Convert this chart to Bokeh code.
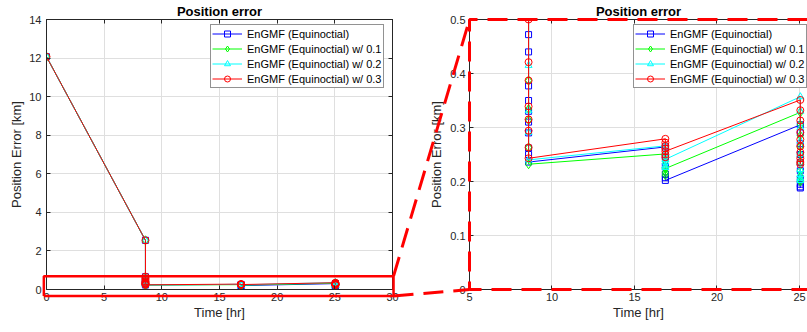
import numpy as np
from bokeh.plotting import figure
from bokeh.layouts import row
from bokeh.models import Range1d, FixedTicker, LinearAxis, Legend, LegendItem
from bokeh.embed import file_html
from bokeh.resources import INLINE

# ---------------- data ----------------
t_meas = [0.0, 8.58, 16.87, 25.05]          # measurement epochs [hr]
err_initial = 12.07                          # error at t = 0
err_first = 2.55                             # first update at 8.58 hr

series_labels = ["EnGMF (Equinoctial)", "EnGMF (Equinoctial) w/ 0.1",
                 "EnGMF (Equinoctial) w/ 0.2", "EnGMF (Equinoctial) w/ 0.3"]

blue_t1 = [0.66, 0.55, 0.472, 0.440, 0.377, 0.350, 0.330, 0.310, 0.290, 0.262, 0.250, 0.236]
blue_t2 = [0.264, 0.245, 0.228, 0.214, 0.207, 0.202]
blue_t3 = [0.305, 0.290, 0.270, 0.250, 0.235, 0.220, 0.205, 0.195, 0.190, 0.188]

green_t1 = [0.64, 0.52, 0.387, 0.334, 0.314, 0.263, 0.232]
green_t2 = [0.251, 0.238, 0.226, 0.217, 0.212, 0.224]
green_t3 = [0.328, 0.305, 0.285, 0.265, 0.250, 0.235, 0.220, 0.210, 0.203, 0.200]

cyan_t1 = [0.65, 0.54, 0.415, 0.331, 0.291, 0.240]
cyan_t2 = [0.266, 0.252, 0.236, 0.229, 0.226, 0.241]
cyan_t3 = [0.357, 0.330, 0.300, 0.275, 0.250, 0.235, 0.222, 0.213, 0.206, 0.202]

red_t1 = [0.67, 0.58, 0.50, 0.421, 0.387, 0.339, 0.315, 0.294, 0.263, 0.243]
red_t2 = [0.279, 0.272, 0.266, 0.261, 0.250, 0.245, 0.256]
red_t3 = [0.351, 0.332, 0.313, 0.291, 0.278, 0.265, 0.254, 0.243, 0.236, 0.232]

left_xticks = [0, 5, 10, 15, 20, 25, 30]
left_yticks = [0, 2, 4, 6, 8, 10, 12, 14]
right_xticks = [5, 10, 15, 20, 25]
right_yticks = [0, 0.1, 0.2, 0.3, 0.4, 0.5]
right_ytick_labels = ["0", "0.1", "0.2", "0.3", "0.4", "0.5"]

# ---------------- styles / layout ----------------
colors = ["#0000ff", "#00ff00", "#00ffff", "#ff0000"]
markers = ["square", "diamond", "triangle", "circle"]
msizes = [6, 9, 7, 7]
TXT = "#262626"
FONT = "Liberation Sans"
GRID = "#dfdfdf"

H = 332
TOP, BOTTOM = 19, 43
FRAME_H = H - TOP - BOTTOM
L_W, L_BL, L_BR = 402, 46, 10
R_W, R_BL, R_BR = 405, 67, 0
L_XR, L_YR = (0, 30), (0, 14)
R_XR, R_YR = (5, 25.485), (0, 0.5)
ZOOM_BOX = (-0.23, 30.09, -0.337, 0.69)   # x0, x1, y0, y1 in left-axes units
LEG_X, LEG_Y = 164, 201

# screen geometry of the two frames
L_FX0, L_FX1 = L_BL, L_W - L_BR
R_FX0, R_FX1 = L_W + R_BL, L_W + R_W - R_BR
FY0, FY1 = TOP, TOP + FRAME_H


def px_to_data(px, py, fx0, fx1, xr, yr):
    x = xr[0] + (px - fx0) / (fx1 - fx0) * (xr[1] - xr[0])
    y = yr[0] + (FY1 - py) / (FY1 - FY0) * (yr[1] - yr[0])
    return x, y


def data_to_px(x, y, fx0, fx1, xr, yr):
    px = fx0 + (x - xr[0]) / (xr[1] - xr[0]) * (fx1 - fx0)
    py = FY1 - (y - yr[0]) / (yr[1] - yr[0]) * (FY1 - FY0)
    return px, py


def build_series(c1, c2, c3):
    t = [t_meas[0], t_meas[1]] + [t_meas[1]] * len(c1) + [t_meas[2]] * len(c2) + [t_meas[3]] * len(c3)
    y = [err_initial, err_first] + c1 + c2 + c3
    return t, y


series = [build_series(blue_t1, blue_t2, blue_t3),
          build_series(green_t1, green_t2, green_t3),
          build_series(cyan_t1, cyan_t2, cyan_t3),
          build_series(red_t1, red_t2, red_t3)]


def style_axis(ax, ticks, labels=True):
    ax.ticker = FixedTicker(ticks=ticks)
    ax.axis_line_color = TXT
    ax.major_tick_line_color = TXT
    ax.major_tick_in = 4
    ax.major_tick_out = 0
    ax.minor_tick_line_color = None
    ax.major_label_text_font = FONT
    ax.axis_label_text_font = FONT
    ax.axis_label_text_font_size = "13px"
    ax.axis_label_text_font_style = "normal"
    ax.axis_label_text_color = TXT
    if labels:
        ax.major_label_text_font_size = "11px"
        ax.major_label_text_color = TXT
    else:
        ax.major_label_text_font_size = "0px"
        ax.major_label_text_color = None
        ax.major_label_standoff = 0


def make_fig(width, bl, br, xr, yr, xticks, yticks, outline):
    p = figure(width=width, height=H, output_backend="svg", toolbar_location=None,
               x_range=Range1d(*xr), y_range=Range1d(*yr),
               min_border_left=bl, min_border_right=br,
               min_border_top=TOP, min_border_bottom=BOTTOM,
               title="Position error")
    p.title.text_font = FONT
    p.title.text_font_size = "13px"
    p.title.text_font_style = "bold"
    p.title.text_color = "#000000"
    p.title.align = "center"
    p.title.standoff = 2
    p.outline_line_color = TXT if outline else None
    p.background_fill_color = "white"
    p.border_fill_color = "white"
    style_axis(p.xaxis[0], xticks)
    style_axis(p.yaxis[0], yticks)
    p.xaxis.axis_label = "Time [hr]"
    p.yaxis.axis_label = "Position Error [km]"
    p.xaxis.major_label_standoff = 3
    p.xaxis.axis_label_standoff = 1
    p.xgrid.ticker = FixedTicker(ticks=xticks)
    p.ygrid.ticker = FixedTicker(ticks=yticks)
    p.grid.grid_line_color = GRID
    top = LinearAxis()
    style_axis(top, xticks, labels=False)
    p.add_layout(top, "above")
    return p


def add_series(p):
    items = []
    for (t, y), lab, c, m, s in zip(series, series_labels, colors, markers, msizes):
        lr = p.line(t, y, line_color=c, line_width=1)
        sr = p.scatter(t, y, marker=m, size=s, line_color=c, fill_color=None, line_width=1)
        items.append(LegendItem(label=lab, renderers=[lr, sr]))
    legend = Legend(items=items, location=(LEG_X, LEG_Y),
                    label_text_font=FONT, label_text_font_size="11px", label_text_color="#000000",
                    glyph_width=30, glyph_height=15, label_height=15, label_standoff=5,
                    spacing=0, padding=1, margin=0,
                    border_line_color=TXT, border_line_width=1,
                    background_fill_color="white", background_fill_alpha=1)
    p.add_layout(legend)


# ---------- left figure ----------
pl = make_fig(L_W, L_BL, L_BR, L_XR, L_YR, left_xticks, left_yticks, True)
pl.yaxis[0].major_label_standoff = 5
pl.yaxis[0].axis_label_standoff = 2
rax = LinearAxis()
style_axis(rax, left_yticks, labels=False)
pl.add_layout(rax, "right")
add_series(pl)

# ---------- right figure ----------
pr = make_fig(R_W, R_BL, R_BR, R_XR, R_YR, right_xticks, right_yticks, False)
pr.yaxis[0].major_label_overrides = {v: s for v, s in zip(right_yticks, right_ytick_labels)}
pr.yaxis[0].major_label_standoff = 4
pr.yaxis[0].axis_label_standoff = 3
add_series(pr)

# ---------- zoom decorations ----------
zx0, zx1, zy0, zy1 = ZOOM_BOX
pl.line([zx0, zx1, zx1, zx0, zx0], [zy0, zy0, zy1, zy1, zy0],
        line_color="#ff0000", line_width=2.5, level="overlay")

a_top = data_to_px(zx1, zy1, L_FX0, L_FX1, L_XR, L_YR)
a_bot = data_to_px(zx1, zy0, L_FX0, L_FX1, L_XR, L_YR)
b_top = (R_FX0, FY0)
b_bot = (R_FX0, FY1)
for (a, b) in [(a_top, b_top), (a_bot, b_bot)]:
    for p, fx0, fx1, xr, yr in [(pl, L_FX0, L_FX1, L_XR, L_YR),
                                (pr, R_FX0, R_FX1, R_XR, R_YR)]:
        x0, y0 = px_to_data(a[0], a[1], fx0, fx1, xr, yr)
        x1, y1 = px_to_data(b[0], b[1], fx0, fx1, xr, yr)
        p.line([x0, x1], [y0, y1], line_color="#ff0000", line_width=3,
               line_dash="20 10", level="overlay")

pr.line([R_XR[1], R_XR[0], R_XR[0], R_XR[1]], [R_YR[1], R_YR[1], R_YR[0], R_YR[0]],
        line_color="#ff0000", line_width=3, line_dash="20 10", level="overlay")

layout = row(pl, pr)
open("out.html", "w").write(file_html(layout, INLINE))
